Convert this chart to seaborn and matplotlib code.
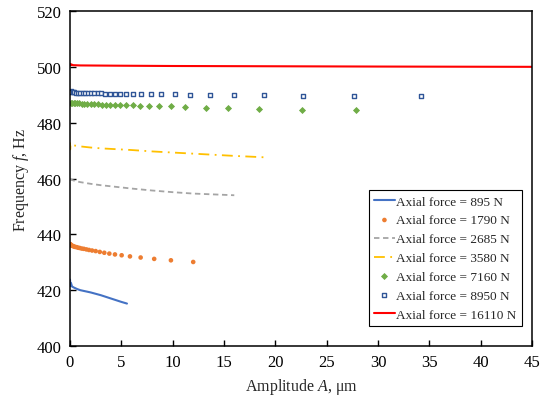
import matplotlib
matplotlib.use("Agg")
import matplotlib.pyplot as plt
import seaborn as sns
import pandas as pd

# ---- data ----
a_895 = [0.0, 0.05, 0.1, 0.2, 0.4, 0.7, 1.0, 1.5, 2.0, 2.5, 3.0, 3.5, 4.0, 4.5, 5.0, 5.55]
f_895 = [423.8, 421.5, 422.5, 421.3, 420.9, 420.4, 420.0, 419.6, 419.2, 418.7, 418.2, 417.6, 417.0, 416.4, 415.8, 415.2]

a_1790 = [0.03, 0.06, 0.12, 0.2, 0.3, 0.4, 0.5, 0.65, 0.8, 0.95, 1.15, 1.35, 1.6, 1.85,
          2.15, 2.5, 2.9, 3.34, 3.83, 4.38, 5.03, 5.84, 6.88, 8.2, 9.83, 12.0]
f_1790 = [436.5, 436.3, 436.1, 435.9, 435.8, 435.6, 435.5, 435.4, 435.2, 435.1, 434.9, 434.8, 434.6, 434.4,
          434.2, 434.0, 433.7, 433.4, 433.1, 432.8, 432.5, 432.1, 431.7, 431.2, 430.7, 430.1]

a_2685 = [0.0, 0.1, 0.5, 1.0, 2.0, 3.0, 4.0, 5.0, 6.0, 8.0, 10.0, 12.0, 14.0, 16.0]
f_2685 = [460.0, 459.6, 459.1, 458.7, 458.1, 457.6, 457.2, 456.8, 456.4, 455.7, 455.1, 454.6, 454.3, 454.0]

a_3580 = [0.0, 0.02, 0.05, 0.3, 1.0, 2.0, 3.0, 4.0, 6.0, 8.0, 10.0, 12.0, 14.0, 16.0, 18.9]
f_3580 = [472.9, 470.4, 472.3, 471.9, 471.5, 471.1, 470.8, 470.6, 470.2, 469.7, 469.3, 468.9, 468.5, 468.1, 467.6]

a_7160 = [0.1, 0.2, 0.35, 0.5, 0.7, 0.9, 1.15, 1.4, 1.7, 2.0, 2.35, 2.7, 3.1, 3.5, 3.9, 4.4,
          4.9, 5.5, 6.1, 6.8, 7.66, 8.7, 9.8, 11.2, 13.2, 15.4, 18.4, 22.6, 27.9]
f_7160 = [487.1, 487.1, 487.0, 487.0, 486.9, 486.9, 486.8, 486.8, 486.7, 486.7, 486.6, 486.6, 486.5, 486.5, 486.4, 486.4,
          486.3, 486.2, 486.2, 486.1, 486.0, 485.9, 485.8, 485.6, 485.4, 485.2, 485.0, 484.7, 484.4]

a_8950 = [0.05, 0.12, 0.25, 0.4, 0.6, 0.8, 1.0, 1.25, 1.5, 1.75, 2.05, 2.35, 2.7, 3.05, 3.45, 3.9,
          4.38, 4.9, 5.5, 6.17, 6.95, 7.86, 8.9, 10.2, 11.7, 13.6, 16.0, 18.9, 22.7, 27.7, 34.2]
f_8950 = [491.2, 491.1, 491.0, 490.9, 490.8, 490.8, 490.7, 490.7, 490.6, 490.6, 490.6, 490.5, 490.5, 490.5, 490.4, 490.4,
          490.4, 490.3, 490.3, 490.3, 490.2, 490.2, 490.1, 490.1, 490.0, 490.0, 489.9, 489.8, 489.7, 489.6, 489.5]

a_16110 = [0.0, 0.05, 0.1, 0.3, 1.0, 5.0, 10.0, 20.0, 30.0, 45.0]
f_16110 = [501.0, 500.6, 500.9, 500.6, 500.5, 500.4, 500.3, 500.2, 500.1, 500.0]

labels = ["Axial force = 895 N", "Axial force = 1790 N", "Axial force = 2685 N",
          "Axial force = 3580 N", "Axial force = 7160 N", "Axial force = 8950 N",
          "Axial force = 16110 N"]
x_ticks = [0, 5, 10, 15, 20, 25, 30, 35, 40, 45]
y_ticks = [400, 420, 440, 460, 480, 500, 520]

sns.set_style("white")
plt.rcParams['font.family'] = ['Liberation Serif', 'DejaVu Serif']
plt.rcParams['mathtext.fontset'] = 'custom'
plt.rcParams['mathtext.rm'] = 'Liberation Serif'
plt.rcParams['mathtext.it'] = 'Liberation Serif:italic'

fig = plt.figure(figsize=(5.4, 4.02), dpi=100)
ax = fig.add_axes([70/540, 1-347/402, 462/540, 335/402])

def df(a, f):
    return pd.DataFrame({"A": a, "f": f})

sns.lineplot(data=df(a_895, f_895), x="A", y="f", ax=ax, color="#4472C4", lw=1.5,
             sort=False, estimator=None, label=labels[0])
sns.scatterplot(data=df(a_1790, f_1790), x="A", y="f", ax=ax, color="#ED7D31", s=11,
                marker="o", edgecolor="none", label=labels[1])
sns.lineplot(data=df(a_2685, f_2685), x="A", y="f", ax=ax, color="#A5A5A5", lw=1.3,
             sort=False, estimator=None, label=labels[2], dashes=False, linestyle=(0, (3, 2)))
sns.lineplot(data=df(a_3580, f_3580), x="A", y="f", ax=ax, color="#FFC000", lw=1.3,
             sort=False, estimator=None, label=labels[3], dashes=False, linestyle=(0, (6, 3, 1, 3)))
sns.scatterplot(data=df(a_7160, f_7160), x="A", y="f", ax=ax, color="#70AD47", s=9,
                marker="D", edgecolor="#70AD47", linewidth=0.6, label=labels[4])
sns.scatterplot(data=df(a_8950, f_8950), x="A", y="f", ax=ax, facecolor="white", s=12,
                marker="s", edgecolor="#2F5597", linewidth=1.0, label=labels[5])
sns.lineplot(data=df(a_16110, f_16110), x="A", y="f", ax=ax, color="#FF0000", lw=1.5,
             sort=False, estimator=None, label=labels[6])

ax.set_xlim(0, 45)
ax.set_ylim(400, 520)
ax.set_xticks(x_ticks)
ax.set_yticks(y_ticks)
ax.tick_params(axis="both", which="major", direction="in", length=4, width=1,
               labelsize=12, color="black", labelcolor="black", pad=6,
               bottom=True, left=True, top=False, right=False)
for s in ax.spines.values():
    s.set_color("black")
    s.set_linewidth(1.1)

ax.set_xlabel("Amplitude $A$, μm", fontsize=11.5, labelpad=4)
ax.set_ylabel("Frequency $f$, Hz", fontsize=11.5, labelpad=4)

leg = ax.legend(loc="lower right", bbox_to_anchor=(0.978, 0.06), fontsize=9.5,
                frameon=True, fancybox=False, framealpha=1, edgecolor="black",
                handlelength=1.6, handletextpad=0.1, labelspacing=0.5,
                borderpad=0.4, borderaxespad=0.0, markerscale=1.0)
leg.get_frame().set_linewidth(0.8)

fig.savefig("out.png", dpi=100)
